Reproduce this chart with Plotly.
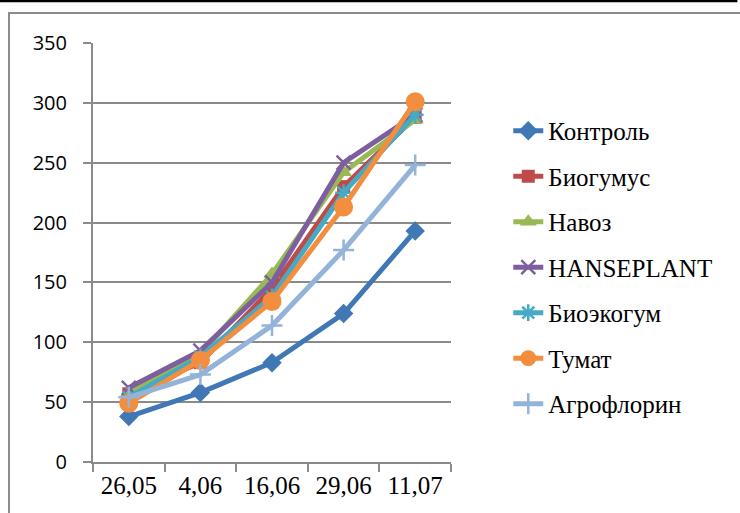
import plotly.graph_objects as go

# Dates of measurement
dates = ["26,05", "4,06", "16,06", "29,06", "11,07"]

# Series values per treatment
kontrol = [38, 58, 83, 124, 193]
biogumus = [57, 83, 145, 230, 288]
navoz = [58, 90, 157, 242, 286]
hanseplant = [62, 93, 150, 250, 290]
bioekogum = [54, 88, 138, 225, 290]
tumat = [49, 85, 134, 213, 301]
agroflorin = [54, 73, 114, 177, 248]

series = [
    ("Контроль", kontrol, "#4077B5", dict(symbol="diamond", size=15)),
    ("Биогумус", biogumus, "#BE4B48", dict(symbol="square", size=13)),
    ("Навоз", navoz, "#98B954", dict(symbol="triangle-up", size=15)),
    ("HANSEPLANT", hanseplant, "#7D5FA0", dict(symbol="x-thin-open", size=14, line=dict(width=2.5))),
    ("Биоэкогум", bioekogum, "#46AAC5", dict(symbol="asterisk-open", size=14, line=dict(width=2.5))),
    ("Тумат", tumat, "#F38E3F", dict(symbol="circle", size=19)),
    ("Агрофлорин", agroflorin, "#94B3D9", dict(symbol="cross-thin-open", size=15, line=dict(width=2.5))),
]

fig = go.Figure()
for i, (name, vals, color, marker) in enumerate(series):
    m = dict(color=color, **marker)
    if "line" in m:
        m["line"] = dict(color=color, width=m["line"]["width"])
    fig.add_trace(go.Scatter(
        x=dates, y=vals, name=name, mode="lines+markers",
        line=dict(color=color, width=5),
        marker=m, legendgroup=f"g{i}",
    ))

grid = "#8A8A8A"
fig.update_layout(
    width=740, height=513,
    margin=dict(l=93, r=289, t=43, b=51),
    paper_bgcolor="white", plot_bgcolor="white",
    showlegend=True,
    legend=dict(
        x=1.16, xanchor="left", y=0.845, yanchor="top",
        font=dict(family="Liberation Serif", size=25, color="black"),
        tracegroupgap=10, itemwidth=30, bgcolor="rgba(0,0,0,0)",
    ),
    xaxis=dict(
        type="category", range=[-0.5, 4.5],
        showline=True, linecolor=grid, linewidth=2,
        ticks="outside", tickson="boundaries", ticklen=8, tickwidth=2, tickcolor=grid,
        showgrid=False, zeroline=False,
        tickfont=dict(family="Liberation Serif", size=25, color="black"),
    ),
    yaxis=dict(
        range=[0, 350], dtick=50,
        showline=True, linecolor=grid, linewidth=2,
        ticks="outside", ticklen=8, tickwidth=2, tickcolor=grid,
        showgrid=True, gridcolor=grid, gridwidth=2, zeroline=False,
        ticklabelstandoff=12,
        tickfont=dict(family="Open Sans", size=20, color="black"),
    ),
    shapes=[
        dict(type="line", xref="paper", yref="paper",
             x0=-0.3, x1=1.8, y0=1.1, y1=1.1,
             line=dict(color="black", width=2.5)),
        dict(type="rect", xref="paper", yref="paper",
             x0=-0.2346, x1=1.9, y0=-0.2, y1=1.0716,
             line=dict(color="#8C8C8C", width=2), layer="below"),
    ],
)

fig.write_html("out.html")
